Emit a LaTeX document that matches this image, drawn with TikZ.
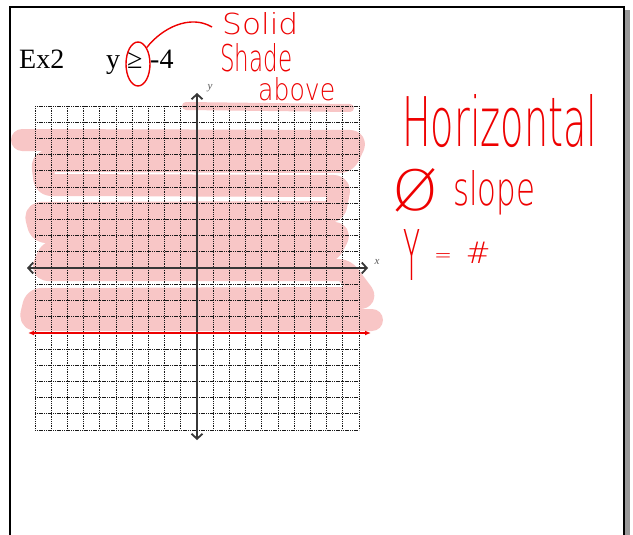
\documentclass[tikz,border=0pt]{standalone}
\usepackage{fontspec}
\setmainfont{Liberation Serif}
\newfontfamily\handfont{DejaVu Sans ExtraLight}
\definecolor{penRed}{RGB}{238, 0, 0}
\definecolor{hiPink}{RGB}{248, 198, 198}
\definecolor{axisGray}{RGB}{55, 55, 55}
\usetikzlibrary{positioning, shapes.geometric, arrows.meta}

\begin{document}
\begin{tikzpicture}[
    x=1pt, y=-1pt,
    gridline/.style={black!90, line width=0.9pt, dash pattern=on 1.1pt off 0.7pt},
    axis/.style={axisGray, line width=1.8pt,
                 {Straight Barb[length=5pt,width=11pt]}-{Straight Barb[length=5pt,width=11pt]}},
    boundary/.style={penRed, line width=1.5pt,
                     {Latex[length=6pt,width=5pt]}-{Latex[length=6pt,width=5pt]}},
    scribble/.style={hiPink, line width=22pt, line cap=round, line join=round,
                     rounded corners=6pt},
    ink/.style={penRed, line width=1.4pt},
    hand/.style={text=penRed, font=\handfont, inner sep=0pt, anchor=base west},
    printed/.style={font=\fontsize{28}{28}\selectfont, inner sep=0pt, anchor=base west},
    axislabel/.style={font=\fontsize{11}{11}\selectfont\itshape, inner sep=0pt, text=black!65},
  ]
    \fill[white] (0,0) rectangle (633,535);
    \useasboundingbox (0,0) rectangle (633,535);

    % page edge
    \fill[black!40] (625,10) rectangle (630,535);
    \draw[black, line width=2pt] (10,535) -- (10,7) -- (624,7) -- (624,535);

    % shading
    \draw[scribble, line width=8pt] (186,106) -- (350,108);
    \draw[scribble] (22,140) -- (356,141) -- (346,162) -- (42,161) -- (45,185)
          -- (340,186) -- (335,212) -- (35,213) -- (40,232) -- (340,233)
          -- (330,252) -- (50,251) -- (42,270) -- (345,270) -- (366,298)
          -- (35,299) -- (30,320) -- (372,320);

    % grid
    \foreach \i in {-10,...,10} {
      \draw[gridline] (197+16.2*\i,106) -- (197+16.2*\i,430);
      \draw[gridline] (35,268+16.2*\i) -- (359,268+16.2*\i);
    }

    \coordinate (xl) at (27,268);
    \coordinate (xr) at (368,268);
    \coordinate (yt) at (197,93);
    \coordinate (yb) at (197,440);
    \draw[axis] (xl) -- (xr);
    \draw[axis] (yb) -- (yt);
    \node[axislabel] (xlab) at (377,262) {x};
    \node[axislabel] (ylab) at (210,88) {y};

    \coordinate (bl) at (28,333);
    \coordinate (br) at (371,333);
    \draw[boundary] (bl) -- (br);

    % printed heading
    \node[printed] (ex) at (19,69) {Ex2};
    \node[printed] (yvar) at (106,69) {y};
    \node[printed] (geq) at (127,69) {≥};
    \node[printed] (rhs) at (150,69) {-4};

    % pen notes
    \node[ellipse, draw=penRed, line width=1.4pt, minimum width=24pt,
          minimum height=44pt, inner sep=0pt] (ring) at (138,64) {};
    \coordinate (tail) at (212,27);
    \draw[ink] (ring.62) .. controls (162,28) and (190,14) .. (tail);

    \node[hand] (solid) at (222,35) {\resizebox{76pt}{22pt}{Solid}};
    \node[hand] (shade) at (220,72) {\resizebox{72pt}{28pt}{Shade}};
    \node[hand] (above) at (258,101) {\resizebox{77pt}{23pt}{above}};

    \node[hand] (horiz) at (402,147) {\resizebox{195pt}{52pt}{Horizontal}};
    \node[hand, anchor=center] (zero) at (415,190) {\resizebox{46pt}{42pt}{Ø}};
    \node[hand] (slope) at (453,205) {\resizebox{82pt}{35pt}{slope}};
    \node[hand] (yeq) at (403,280) {\resizebox{17pt}{51pt}{Y}};
    \node[hand, anchor=center] (eqsign) at (443,258) {\resizebox{18pt}{!}{=}};
    \node[hand, anchor=center] (hash) at (478,253) {\resizebox{25pt}{!}{\#}};
  \end{tikzpicture}
\end{document}
